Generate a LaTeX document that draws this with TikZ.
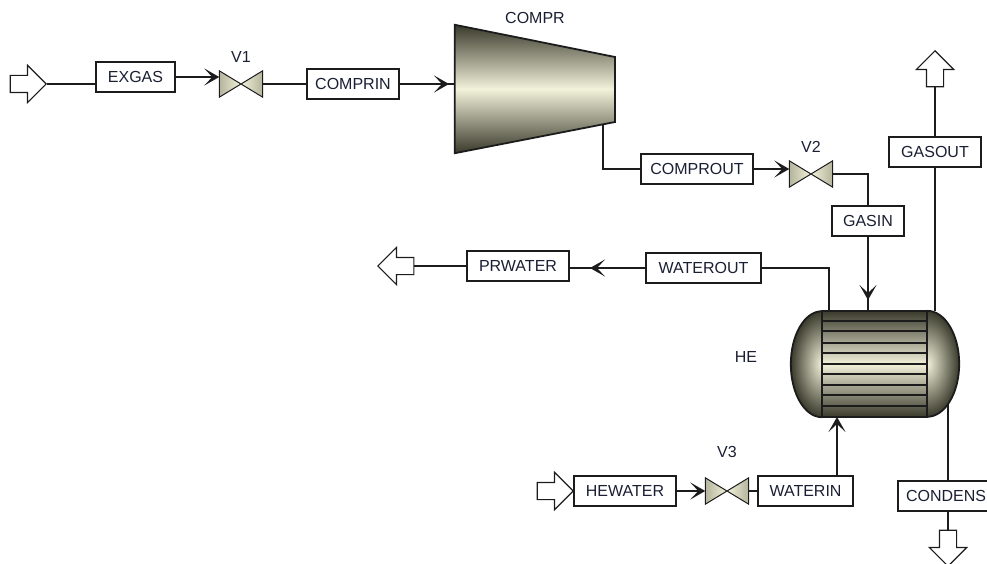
\documentclass[tikz,border=0pt]{standalone}
\usepackage{fontspec}
\setmainfont{Liberation Sans}
\usetikzlibrary{positioning,arrows.meta,shapes.arrows}
\definecolor{pfdline}{HTML}{1C1C1C}
\definecolor{pfdtext}{HTML}{1A1F33}
\definecolor{pfddark}{HTML}{3A3A2C}
\definecolor{pfdpale}{HTML}{F2F1DA}
\definecolor{pfdvalve}{HTML}{B4B49C}

\begin{document}
\begin{tikzpicture}[
  x=1pt, y=-1pt,
  font=\fontsize{16}{18}\selectfont\color{pfdtext},
  line/.style={draw=pfdline, line width=1.5pt},
  flow/.style={line, -{Stealth[length=15pt, width=17pt, inset=8pt, line width=1.8pt]}},
  stream/.style={draw=pfdline, fill=white, line width=1.5pt, minimum height=30pt, inner sep=0pt},
  valve/.style={minimum width=43pt, minimum height=26pt, inner sep=0pt},
  port/.style={shape=single arrow, draw=pfdline, fill=white, line width=1.2pt, inner sep=8pt,
               minimum height=36pt, minimum width=36pt, single arrow head extend=10pt, anchor=tip},
  tag/.style={inner sep=0pt},
  shell/.style={draw=pfdline, line width=1.8pt}]
  \useasboundingbox (0,0) rectangle (987,564);
  % streams
  \foreach \n/\x/\y/\w/\t in {exgas/135.5/77/79/EXGAS, comprin/353/84/92/COMPRIN,
      comprout/697/169/112/COMPROUT, gasin/868/221/72/GASIN, gasout/935/152/92/GASOUT,
      waterout/703.5/268/115/WATEROUT, prwater/518/266/102/PRWATER,
      hewater/625/491/102/HEWATER, waterin/805.5/491/95/WATERIN, condens/946/496/96/CONDENS}
    \node[stream, minimum width=\w pt] (\n) at (\x,\y) {\t};
  % feeds and products
  \foreach \n/\x/\y/\r in {gasfeed/47/84/0, gasvent/935/50/90, prout/377/266/180,
      hefeed/574/491/0, condout/948/567/270}
    \node[port, shape border rotate=\r] (\n) at (\x,\y) {};
  % valves
  \foreach \n/\x/\y/\g/\t in {v1/241/84/8/V1, v2/811/174/8/V2, v3/727/491/20/V3} {
    \node[valve] (\n) at (\x,\y) {};
    \shadedraw[draw=pfdline, line width=1pt, left color=pfdvalve, right color=pfdvalve, middle color=pfdpale]
      (\n.north west) -- (\n.south east) -- (\n.north east) -- (\n.south west) -- cycle;
    \node[tag, above=\g pt of \n] (\n tag) {\t};
  }
  % equipment anchors
  \node[minimum width=160pt, minimum height=128pt, inner sep=0pt] (compr) at (535,89) {};
  \node[minimum width=105pt, minimum height=106pt, inner sep=0pt] (he) at (874.5,364) {};
  \coordinate (comprtip) at (449,84);
  \coordinate (comprtail) at (603,124);
  \coordinate (hegastip) at (868,300);
  \coordinate (heshell) at (829,311);
  \coordinate (hewaterin) at (837,417);
  \coordinate (hecond) at (948,404);
  \coordinate (prtip) at (590,268);
  % connectors
  \draw[line] (gasfeed.tip) -- (gasfeed.tip -| exgas.west);
  \draw[flow] (exgas.east) -- (exgas.east -| v1.west);
  \draw[line] (v1.east) -- (v1.east -| comprin.west);
  \draw[line] (comprin.east) -- (comprin.east -| compr.west);
  \draw[flow] (comprin.east) -- (comprtip);
  \draw[line] (comprtail) |- (comprout.west);
  \draw[flow] (comprout.east) -- (comprout.east -| v2.west);
  \draw[line] (v2.east) -| (gasin.north);
  \draw[line] (gasin.south) -- (gasin |- he.north);
  \draw[flow] (gasin.south) -- (hegastip);
  \draw[line] (gasout.north) -- (gasvent.tail);
  \draw[line] (gasout.south) -- (gasout |- he.north);
  \draw[line] (waterout.east) -| (heshell);
  \draw[line] (waterout.west) -- (waterout.west -| prwater.east);
  \draw[flow] (waterout.west) -- (prtip);
  \draw[line] (prwater.west) -- (prout.tail);
  \draw[flow] (hewater.east) -- (hewater.east -| v3.west);
  \draw[line] (v3.east) -- (v3.east -| waterin.west);
  \draw[flow] (hewaterin |- waterin.north) -- (hewaterin);
  \draw[line] (hecond) -- (hecond |- condens.north);
  \draw[line] (condout.tail) -- (hecond |- condens.south);
  % compressor
  \shadedraw[shell, top color=pfddark, bottom color=pfddark, middle color=pfdpale]
    (compr.north west) -- (615,57) -- (615,122) -- (compr.south west) -- cycle;
  % heat exchanger
  \begin{scope}
    \clip (785,300) rectangle (he.south west);
    \shade[inner color=pfdpale, outer color=pfddark] (he.west) ellipse (31 and 53);
  \end{scope}
  \begin{scope}
    \clip (he.north east) rectangle (965,425);
    \shade[inner color=pfdpale, outer color=pfddark] (he.east) ellipse (32 and 53);
  \end{scope}
  \draw[shell] (he.south west) arc[start angle=90, end angle=270, x radius=31, y radius=53];
  \draw[shell] (he.north east) arc[start angle=-90, end angle=90, x radius=32, y radius=53];
  \shadedraw[shell, top color=pfddark, bottom color=pfddark, middle color=pfdpale]
    (he.north west) rectangle (he.south east);
  \foreach \y in {321,331,343,353,364,374,385,395,406}
    \draw[line] (822,\y) -- (927,\y);
  % labels
  \node[tag] (comprtag) at (535,18) {COMPR};
  \node[tag] (hetag) at (746,357) {HE};
\end{tikzpicture}
\end{document}
